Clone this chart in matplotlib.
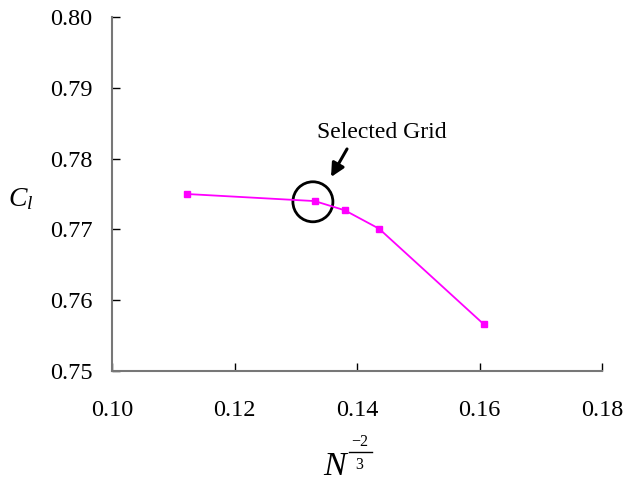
import matplotlib
matplotlib.use("Agg")
import matplotlib.pyplot as plt
from matplotlib.patches import Ellipse
from matplotlib.lines import Line2D

plt.rcParams["font.family"] = ["Liberation Serif", "DejaVu Serif"]
plt.rcParams["mathtext.fontset"] = "custom"
plt.rcParams["mathtext.rm"] = "Liberation Serif"
plt.rcParams["mathtext.it"] = "Liberation Serif:italic"

# Grid convergence data
n_pow = [0.1122, 0.1331, 0.1380, 0.1436, 0.1607]
cl = [0.7750, 0.7740, 0.7727, 0.7701, 0.7566]
selected_idx = 1

x_ticks = [0.10, 0.12, 0.14, 0.16, 0.18]
y_ticks = [0.75, 0.76, 0.77, 0.78, 0.79, 0.80]

W, H = 625, 483
fig = plt.figure(figsize=(W / 100, H / 100), dpi=100)
ax = fig.add_axes([112 / W, 1 - 371 / H, 490 / W, 354 / H])

ax.plot(n_pow, cl, color="#ff00ff", lw=1.3, marker="s", ms=5,
        markerfacecolor="#ff00ff", markeredgecolor="#ff00ff")

ax.set_xlim(0.10, 0.18)
ax.set_ylim(0.75, 0.80)
ax.set_xticks(x_ticks)
ax.set_yticks(y_ticks)
ax.set_xticklabels([f"{v:.2f}" for v in x_ticks])
ax.set_yticklabels([f"{v:.2f}" for v in y_ticks])
ax.tick_params(direction="in", length=6, width=1, labelsize=17.5, colors="black")
ax.tick_params(axis="y", pad=14)
ax.tick_params(axis="x", pad=21)

for side in ("top", "right"):
    ax.spines[side].set_visible(False)
for side in ("left", "bottom"):
    ax.spines[side].set_color("#777777")
    ax.spines[side].set_linewidth(1.5)

# y-axis label
fig.text(21 / W, 1 - 199 / H, r"$C_l$", fontsize=20, ha="center", va="center")

# x-axis label: N raised to the fraction -2/3
fig.text(335 / W, 1 - 475 / H, "N", fontsize=24.5, style="italic",
         ha="center", va="baseline")
fig.text(360 / W, 1 - 442 / H, "\u22122", fontsize=11.5, ha="center", va="center")
fig.text(359 / W, 1 - 465 / H, "3", fontsize=11.5, ha="center", va="center")
fig.add_artist(Line2D([349 / W, 372 / W], [1 - 452 / H, 1 - 452 / H],
                      transform=fig.transFigure, color="black", lw=1))

# Circle around the selected grid
sx, sy = n_pow[selected_idx], cl[selected_idx]
w = 40 / 490 * 0.08
h = 40 / 354 * 0.05
ax.add_patch(Ellipse((sx - 0.0003, sy - 0.0001), w, h, fill=False, ec="black", lw=2))

ax.annotate("", xy=(0.13576, 0.77740), xytext=(0.13837, 0.78136),
            arrowprops=dict(arrowstyle="-|>", color="black", lw=2.2,
                            mutation_scale=20, shrinkA=0, shrinkB=0))
ax.text(0.1440, 0.78362, "Selected Grid", fontsize=17, ha="center", va="center")

fig.savefig("out.png", dpi=100)
